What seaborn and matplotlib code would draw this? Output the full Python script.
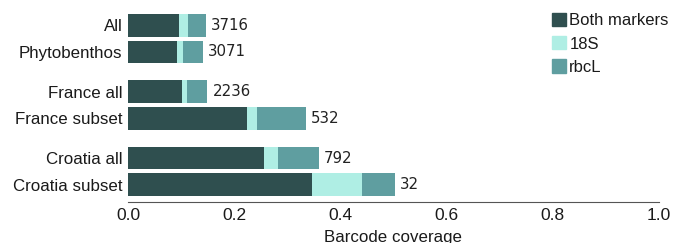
import pandas as pd
import matplotlib.pyplot as plt
import seaborn as sns
import numpy as np

sns.set_theme(style="white")
plt.rcParams['font.family'] = ['Liberation Sans', 'DejaVu Sans']

# data
categories = ["All", "Phytobenthos", "France all", "France subset", "Croatia all", "Croatia subset"]
groups = [0, 0, 1, 1, 2, 2]
both_markers = [0.096, 0.092, 0.102, 0.224, 0.256, 0.346]
only_18s = [0.017, 0.011, 0.009, 0.019, 0.026, 0.094]
only_rbcl = [0.033, 0.038, 0.038, 0.092, 0.077, 0.062]
n_barcodes = [3716, 3071, 2236, 532, 792, 32]

colors = {"Both markers": "#2f4f4f", "18S": "#afeee4", "rbcL": "#5f9ea0"}

# positions: pairs of bars with a half-step gap between groups
pos = np.arange(len(categories)) + 0.5 * np.array(groups)

df = pd.DataFrame({
    "category": categories,
    "pos": pos,
    "both": both_markers,
    "s18": only_18s,
    "rbcl": only_rbcl,
})
df["cum_18s"] = df["both"] + df["s18"]
df["total"] = df["cum_18s"] + df["rbcl"]

fig = plt.figure(figsize=(6.73, 2.43), dpi=100)
ax = fig.add_axes([128 / 673, 1 - 202 / 243, 531 / 673, 194 / 243])

# stacked bars by overlaying cumulative totals
for col, lab in [("total", "rbcL"), ("cum_18s", "18S"), ("both", "Both markers")]:
    sns.barplot(data=df, x=col, y="pos", orient="h", native_scale=True,
                color=colors[lab], width=0.85, saturation=1, ax=ax,
                linewidth=0)

for p, tot, n in zip(df["pos"], df["total"], n_barcodes):
    ax.text(tot + 0.01, p, str(n), va="center", ha="left",
            fontsize=10.8, family="DejaVu Sans", color="#222222")

ax.set_xlim(0, 1.0)
ax.set_ylim(pos.max() + 0.65, pos.min() - 0.65)
ax.set_yticks(pos)
ax.set_yticklabels(categories, fontsize=12.2, color="#1a1a1a")
ax.set_xticks([0, 0.2, 0.4, 0.6, 0.8, 1.0])
ax.set_xticklabels(["0.0", "0.2", "0.4", "0.6", "0.8", "1.0"], fontsize=12.5, color="#1a1a1a")
ax.tick_params(axis="x", direction="in", length=2, width=0.8, color="#555555", pad=4.5)
ax.tick_params(axis="y", length=0, pad=4)
ax.set_xlabel("Barcode coverage", fontsize=12.2, labelpad=4.5, color="#1a1a1a")
ax.set_ylabel("")

for s in ["top", "right", "left"]:
    ax.spines[s].set_visible(False)
ax.spines["bottom"].set_color("#555555")
ax.spines["bottom"].set_linewidth(0.8)

handles = [plt.Rectangle((0, 0), 1, 1, color=colors[k]) for k in ["Both markers", "18S", "rbcL"]]
leg = fig.legend(handles, ["Both markers", "18S", "rbcL"], loc="upper left",
                 bbox_to_anchor=(552 / 673, 1 - 13 / 243), frameon=False, fontsize=12,
                 handlelength=0.84, handleheight=0.84, handletextpad=0.2,
                 labelspacing=0.47, borderpad=0, borderaxespad=0)
for t in leg.get_texts():
    t.set_color("#1a1a1a")

fig.savefig("out.png", dpi=100)
